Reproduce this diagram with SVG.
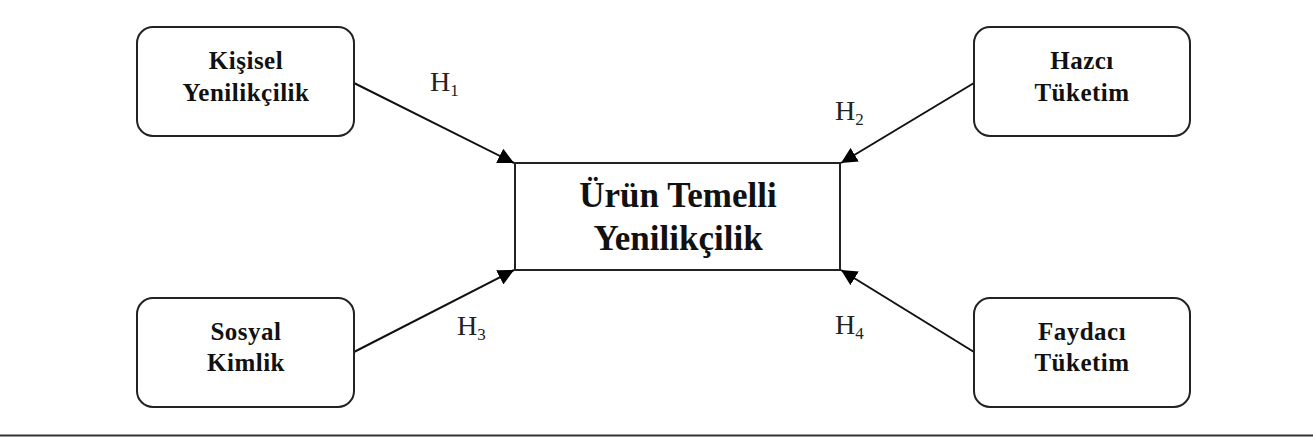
<svg xmlns="http://www.w3.org/2000/svg" width="1313" height="437" viewBox="0 0 1313 437">
<defs>
<marker id="ah" viewBox="0 0 10 10" refX="10" refY="5" markerWidth="16" markerHeight="16" markerUnits="userSpaceOnUse" orient="auto">
<path d="M0,0 L10,5 L0,10 z" fill="#000"/>
</marker>
<style>
.box{fill:#fff;stroke:#222;stroke-width:2}
.nt{font-family:"Liberation Serif","Times New Roman",serif;font-weight:bold;font-size:25px;fill:#111;text-anchor:middle;letter-spacing:0.5px}
.ct{font-family:"Liberation Serif","Times New Roman",serif;font-weight:bold;font-size:35px;fill:#111;text-anchor:middle}
.lbl{font-family:"Liberation Serif","Times New Roman",serif;font-size:28px;fill:#222}
.sub{font-size:17px}
.conn{stroke:#111;stroke-width:2;fill:none;marker-end:url(#ah)}
</style>
</defs>
<rect width="1313" height="437" fill="#fff"/>
<g id="connectors">
<line class="conn" x1="354" y1="83" x2="514" y2="163"/>
<line class="conn" x1="974" y1="83" x2="841" y2="163"/>
<line class="conn" x1="354" y1="352" x2="514" y2="270"/>
<line class="conn" x1="974" y1="352" x2="841" y2="270"/>
<text class="lbl" x="430" y="91">H<tspan class="sub" dy="5">1</tspan></text>
<text class="lbl" x="835" y="120">H<tspan class="sub" dy="5">2</tspan></text>
<text class="lbl" x="457" y="335">H<tspan class="sub" dy="5">3</tspan></text>
<text class="lbl" x="835" y="334">H<tspan class="sub" dy="5">4</tspan></text>
</g>
<g id="node-kisisel">
<rect class="box" x="137" y="27" width="217" height="109" rx="16"/>
<text class="nt" x="246" y="69">Kişisel</text>
<text class="nt" x="246" y="101">Yenilikçilik</text>
</g>
<g id="node-hazci">
<rect class="box" x="974" y="27" width="216" height="109" rx="16"/>
<text class="nt" x="1082" y="69">Hazcı</text>
<text class="nt" x="1082" y="101">Tüketim</text>
</g>
<g id="node-sosyal">
<rect class="box" x="137" y="298" width="217" height="109" rx="16"/>
<text class="nt" x="246" y="340">Sosyal</text>
<text class="nt" x="246" y="371">Kimlik</text>
</g>
<g id="node-faydaci">
<rect class="box" x="974" y="298" width="216" height="109" rx="16"/>
<text class="nt" x="1082" y="340">Faydacı</text>
<text class="nt" x="1082" y="371">Tüketim</text>
</g>
<g id="node-urun">
<rect class="box" x="515" y="163" width="325" height="107"/>
<text class="ct" x="678" y="207">Ürün Temelli</text>
<text class="ct" x="678" y="250">Yenilikçilik</text>
</g>
<line x1="0" y1="435.5" x2="1313" y2="435.5" stroke="#333" stroke-width="2"/>
</svg>
